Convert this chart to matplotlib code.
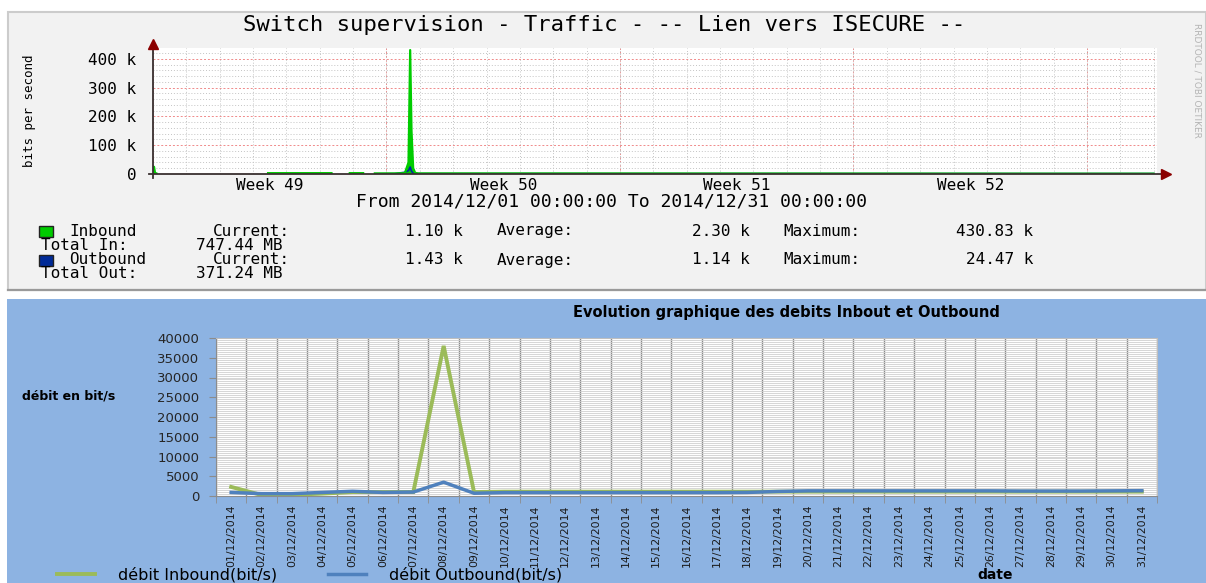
import numpy as np
import matplotlib.pyplot as plt
from matplotlib.patches import Rectangle
from matplotlib.lines import Line2D
from matplotlib.ticker import FixedLocator, MultipleLocator

nan = np.nan
W, H = 1206, 583

# --- Graphe RRDtool (haut) : jours depuis le 01/12/2014, débit en kbit/s
top_days = [0.00, 0.03, 0.06, 0.10, 0.11, 3.45, 5.35, 5.36, 5.90, 6.30, 6.31,
            6.65, 7.25, 7.55, 7.66, 7.71, 7.75, 7.80, 7.86, 7.95, 30.00]
top_in_k = [2, 25, 4, 2, nan, 3, 3, nan, 3, 3, nan,
            2, 2, 3, 40, 430.83, 150, 20, 4, 2, 1.1]
top_out_k = [1, 3, 1, 1, nan, 1, 1, nan, 1, 1, nan,
             1, 1.5, 6, 12, 24.47, 10, 3, 2, 1.5, 1.43]
top_ytick_vals = [0, 100, 200, 300, 400]
top_ytick_labels = ['0', '100 k', '200 k', '300 k', '400 k']
week_bounds = [0, 7, 14, 21, 28]
week_centers = [3.5, 10.5, 17.5, 24.5]
week_labels = ['Week 49', 'Week 50', 'Week 51', 'Week 52']

# --- Graphe Excel (bas) : moyenne journalière en bit/s
dates = ['%02d/12/2014' % d for d in range(1, 32)]
inbound = [2300, 250, 300, 600, 1000, 1000, 1000, 38000, 1000, 1100,
           1100, 1100, 1100, 1100, 1100, 1100, 1100, 1100, 1100, 1100,
           1100, 1100, 1100, 1100, 1100, 1100, 1100, 1100, 1100, 1100, 1100]
outbound = [900, 600, 600, 900, 1200, 900, 1000, 3500, 700, 850,
            850, 850, 850, 850, 850, 850, 850, 900, 1150, 1300,
            1300, 1300, 1300, 1300, 1300, 1300, 1250, 1250, 1250, 1300, 1350]


def fx(px):
    return px / W


def fy(py):
    return 1 - py / H


mono = 'DejaVu Sans Mono'
fig = plt.figure(figsize=(W / 100, H / 100), dpi=100)
fig.patch.set_facecolor('white')

# fonds des deux panneaux
fig.add_artist(Rectangle((fx(8), fy(290)), 1 - fx(8), fy(12) - fy(290),
                         transform=fig.transFigure, facecolor='#f2f2f2',
                         edgecolor='#cccccc', lw=1.5, zorder=0))
fig.add_artist(Line2D([fx(8), 1], [fy(290), fy(290)], transform=fig.transFigure,
                      color='#9a9a9a', lw=1.6, zorder=0))
fig.add_artist(Rectangle((fx(7), 0), 1 - fx(7), fy(299), transform=fig.transFigure,
                         facecolor='#8db3e2', edgecolor='none', zorder=0))

# ---------------- panneau RRDtool ----------------
ax1 = fig.add_axes([fx(153), fy(174), fx(1157) - fx(153), fy(48) - fy(174)])
ax1.set_facecolor('white')
for s in ax1.spines.values():
    s.set_visible(False)
ax1.set_xlim(0, 30.1)
ax1.set_ylim(0, 438)

ax1.fill_between(top_days, 0, top_in_k, color='#00cc00', lw=0, zorder=3)
ax1.plot(top_days, top_out_k, color='#0026a3', lw=1.2, zorder=4)
ax1.plot(top_days, top_in_k, color='#00cc00', lw=1.6, zorder=5)

ax1.yaxis.set_major_locator(FixedLocator(top_ytick_vals))
ax1.set_yticklabels(top_ytick_labels)
ax1.yaxis.set_minor_locator(MultipleLocator(20))
ax1.xaxis.set_major_locator(FixedLocator(week_centers))
ax1.set_xticklabels(week_labels)
ax1.xaxis.set_minor_locator(MultipleLocator(1))
ax1.tick_params(which='both', length=0)
ax1.tick_params(axis='y', pad=12, labelsize=11.5)
ax1.tick_params(axis='x', pad=3, labelsize=11.5)
for lab in ax1.get_xticklabels() + ax1.get_yticklabels():
    lab.set_family(mono)

ax1.grid(which='minor', color='#c4c4c4', ls=(0, (1, 2)), lw=0.7)
ax1.grid(which='major', axis='y', color='#f08a8a', ls=(0, (2, 2)), lw=0.7)
for d in week_bounds:
    ax1.axvline(d, color='#f08a8a', ls=(0, (2, 2)), lw=0.7, zorder=1)

# axes avec flèches
fig.add_artist(Line2D([fx(153), fx(153)], [fy(178), fy(45)], transform=fig.transFigure,
                      color='#3a3030', lw=1.3, zorder=6))
fig.add_artist(Line2D([fx(149), fx(1165)], [fy(174), fy(174)], transform=fig.transFigure,
                      color='#3a3030', lw=1.3, zorder=6))
fig.add_artist(Line2D([fx(153)], [fy(44)], transform=fig.transFigure, marker='^',
                      ms=7, color='#8b0000', zorder=7))
fig.add_artist(Line2D([fx(1166)], [fy(174)], transform=fig.transFigure, marker='>',
                      ms=7, color='#8b0000', zorder=7))

fig.text(fx(604), fy(25), 'Switch supervision - Traffic - -- Lien vers ISECURE --',
         family=mono, fontsize=16, ha='center', va='center')
fig.text(fx(29), fy(111), 'bits per second', family=mono, fontsize=9,
         rotation=90, ha='center', va='center')
fig.text(fx(1197), fy(80), 'RRDTOOL / TOBI OETIKER', fontsize=6.5, color='#b4b4b4',
         rotation=270, ha='center', va='center')
fig.text(fx(612), fy(202), 'From 2014/12/01 00:00:00 To 2014/12/31 00:00:00',
         family=mono, fontsize=13, ha='center', va='center')

# légende RRDtool
fig.add_artist(Rectangle((fx(39), fy(237)), fx(14), fy(226) - fy(237), transform=fig.transFigure,
                         facecolor='#00cc00', edgecolor='#222222', lw=1))
fig.add_artist(Rectangle((fx(39), fy(266)), fx(14), fy(255) - fy(266), transform=fig.transFigure,
                         facecolor='#002a97', edgecolor='#222222', lw=1))
rows = [
    (231, [(69, 'Inbound', 'left'), (213, 'Current:', 'left'), (463, '1.10 k', 'right'),
           (497, 'Average:', 'left'), (750, '2.30 k', 'right'),
           (783, 'Maximum:', 'left'), (1033, '430.83 k', 'right')]),
    (245, [(41, 'Total In:', 'left'), (196, '747.44 MB', 'left')]),
    (260, [(69, 'Outbound', 'left'), (213, 'Current:', 'left'), (463, '1.43 k', 'right'),
           (497, 'Average:', 'left'), (750, '1.14 k', 'right'),
           (783, 'Maximum:', 'left'), (1033, '24.47 k', 'right')]),
    (274, [(41, 'Total Out:', 'left'), (196, '371.24 MB', 'left')]),
]
for y, items in rows:
    for x, txt, ha in items:
        fig.text(fx(x), fy(y), txt, family=mono, fontsize=11.5, ha=ha, va='center')

# ---------------- graphique Excel ----------------
ax2 = fig.add_axes([fx(216), fy(496), fx(1157) - fx(216), fy(338) - fy(496)])
ax2.set_facecolor('white')
x = np.arange(len(dates))
ax2.plot(x, inbound, color='#9bbb59', lw=2.8, solid_joinstyle='miter', zorder=3,
         label='débit Inbound(bit/s)')
ax2.plot(x, outbound, color='#4f81bd', lw=2.5, zorder=4, label='débit Outbound(bit/s)')
ax2.set_xlim(-0.5, len(dates) - 0.5)
ax2.set_ylim(0, 40000)

ax2.set_xticks(x)
ax2.set_xticklabels(dates, rotation=90, fontsize=7.8, color='#1a1a1a')
ax2.xaxis.set_minor_locator(FixedLocator(np.arange(len(dates) + 1) - 0.5))
ax2.tick_params(axis='x', which='major', length=0, pad=6)
ax2.tick_params(axis='x', which='minor', length=5, color='#8c8c8c', direction='out')
ax2.yaxis.set_major_locator(MultipleLocator(5000))
ax2.yaxis.set_minor_locator(MultipleLocator(500))
ax2.tick_params(axis='y', which='major', length=5, color='#8c8c8c', pad=7,
                labelsize=9.5, labelcolor='#262626')
ax2.tick_params(axis='y', which='minor', length=0)
ax2.grid(which='minor', axis='x', color='#8c8c8c', lw=1.0)
ax2.grid(which='minor', axis='y', color='#d0d0d0', lw=0.6)
ax2.grid(which='major', axis='y', color='#d0d0d0', lw=0.6)
ax2.set_axisbelow(True)
for side in ['left', 'bottom']:
    ax2.spines[side].set_color('#8c8c8c')
for side in ['top', 'right']:
    ax2.spines[side].set_color('#bfbfbf')

fig.text(fx(786), fy(313), 'Evolution graphique des debits Inbout et Outbound',
         fontsize=10.5, weight='bold', ha='center', va='center')
fig.text(fx(69), fy(396), 'débit en bit/s', fontsize=9, weight='bold',
         ha='center', va='center')
fig.text(fx(995), fy(575), 'date', fontsize=10, weight='bold', ha='center', va='center')

ax2.legend(loc='center left', bbox_to_anchor=(fx(57), fy(575)), bbox_transform=fig.transFigure,
           ncol=2, frameon=False, fontsize=11.5, handlelength=2.4, handletextpad=1.4,
           columnspacing=3.2, borderpad=0, borderaxespad=0)

fig.savefig('out.png', dpi=100, facecolor=fig.get_facecolor())
